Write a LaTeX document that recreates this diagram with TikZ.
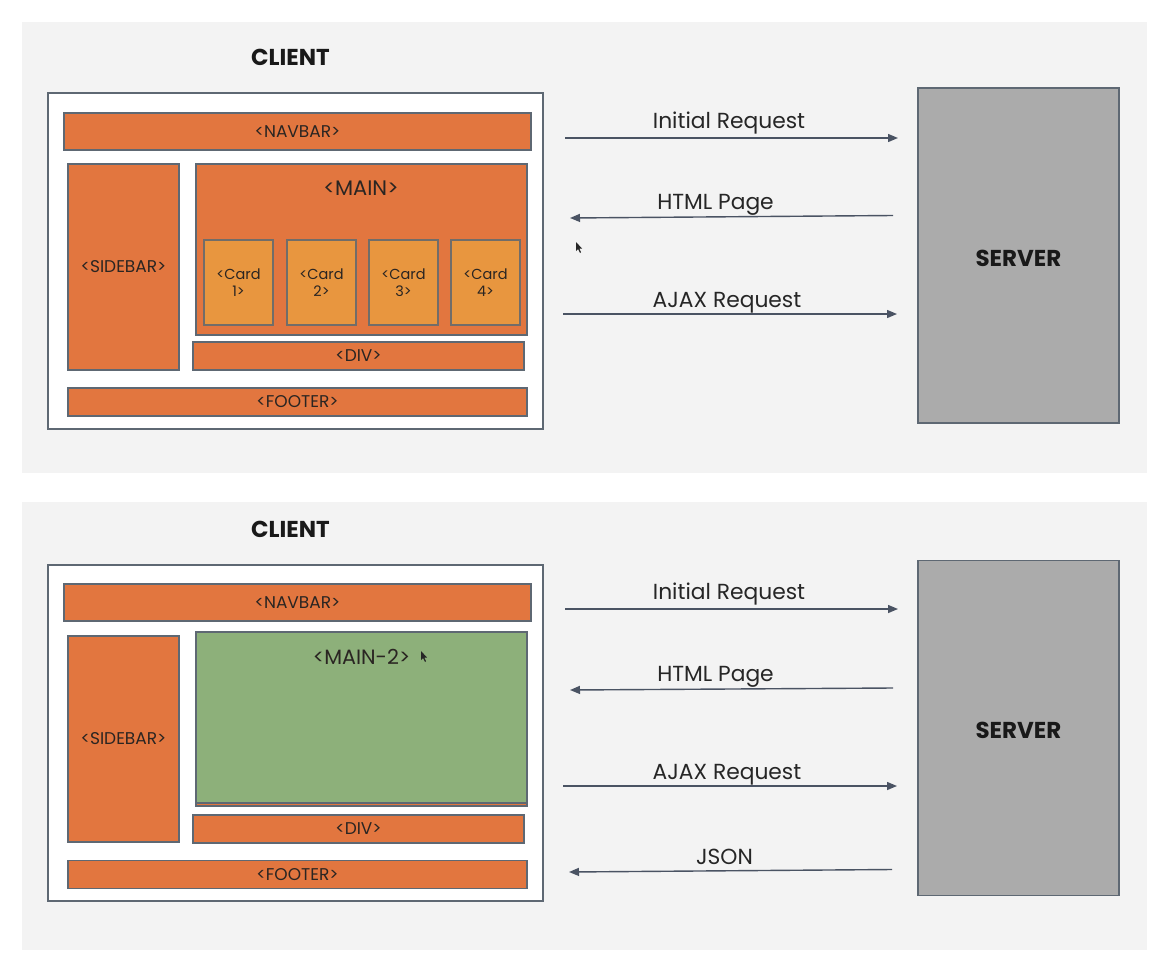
\documentclass[tikz,border=0pt]{standalone}
\usepackage{fontspec}
\setmainfont{Poppins}
\usetikzlibrary{arrows.meta}

\definecolor{panelbg}{HTML}{F3F3F3}
\definecolor{edge}{HTML}{5E6873}
\definecolor{blockor}{HTML}{E2763F}
\definecolor{cardor}{HTML}{E8963F}
\definecolor{maingreen}{HTML}{8DB07A}
\definecolor{srvfill}{HTML}{ABABAB}
\definecolor{flow}{HTML}{4A5363}
\definecolor{ink}{HTML}{2A2522}

\newcommand{\sz}[2][1.2]{\fontsize{#2}{#1\dimexpr#2pt\relax}\selectfont}

\tikzset{
  panel/.style={fill=panelbg, draw=none},
  frame/.style={draw=edge, line width=1.3pt, fill=white, inner sep=0pt},
  blk/.style={draw=edge, line width=1.2pt, fill=blockor, inner sep=0pt, text=ink, font=\sz{17}},
  card/.style={draw=edge!80!brown, line width=1.2pt, fill=cardor, inner sep=0pt, text=ink,
    align=center, font={\fontsize{14.5}{17}\selectfont}, minimum width=69pt, minimum height=85pt},
  greenblk/.style={draw=edge, line width=1.2pt, fill=maingreen, inner sep=0pt},
  server/.style={draw=edge, line width=1.3pt, fill=srvfill, inner sep=0pt,
    minimum width=201pt, minimum height=335pt},
  heading/.style={font=\bfseries\sz{23}, text=black!90, anchor=base, inner sep=0pt},
  flowlabel/.style={font=\sz{21.8}, text=black!85, inner sep=0pt, anchor=base},
  msg/.style={draw=flow, line width=1.4pt, -{Triangle[length=10pt,width=8pt]}},
  pointer/.style={fill=black!85, draw=none},
}

\begin{document}
\begin{tikzpicture}[x=1pt,y=-1pt]
\useasboundingbox[fill=white] (0,0) rectangle (1170,972);

% ---------- upper panel: initial load plus AJAX request ----------
\fill[panel] (22,22) rectangle (1147,473);
\node[heading] (clientA) at (290.5,65) {CLIENT};
\node[frame, minimum width=495pt, minimum height=336pt] (pageA) at (295.5,261) {};
\node[blk, minimum width=467pt, minimum height=37pt] (navA) at (297.5,131.5) {<NAVBAR>};
\node[blk, minimum width=111pt, minimum height=206pt] (sideA) at (123.5,267) {<SIDEBAR>};
\node[blk, minimum width=331pt, minimum height=171pt] (mainA) at (361.5,249.5) {};
\node[font=\sz{21}, text=ink] (mainAlbl) at (361,188) {<MAIN>};
\node[card] (cardA1) at (238.5,282.5) {<Card\\1>};
\node[card] (cardA2) at (321.5,282.5) {<Card\\2>};
\node[card] (cardA3) at (403.5,282.5) {<Card\\3>};
\node[card] (cardA4) at (485.5,282.5) {<Card\\4>};
\node[blk, minimum width=331pt, minimum height=28pt] (divA) at (358.5,356) {<DIV>};
\node[blk, minimum width=459pt, minimum height=28pt] (footA) at (297.5,402) {<FOOTER>};

\node[server] (srvA) at (1018.5,255.5) {};
\node[heading] (srvAlbl) at (1018.5,266) {SERVER};

\coordinate (irAs) at (565,138);   \coordinate (irAe) at (898,138);
\coordinate (hpAs) at (893,215.5); \coordinate (hpAe) at (570,218);
\coordinate (ajAs) at (563,314);   \coordinate (ajAe) at (897,314);
\draw[msg] (irAs) -- (irAe);
\draw[msg] (hpAs) -- (hpAe);
\draw[msg] (ajAs) -- (ajAe);
\node[flowlabel] (irAl) at (729,128) {Initial Request};
\node[flowlabel] (hpAl) at (715.5,209) {HTML Page};
\node[flowlabel] (ajAl) at (727,307) {AJAX Request};

% mouse pointer
\fill[pointer] (576,242) -- (576,251) -- (578,249) -- (580,253) -- (581,252.3) -- (579.3,248.5) -- (582,248.5) -- cycle;

% ---------- lower panel: AJAX response updates <MAIN-2> ----------
\fill[panel] (22,502) rectangle (1147,950);
\node[heading] (clientB) at (290.5,537) {CLIENT};
\node[frame, minimum width=495pt, minimum height=336pt] (pageB) at (295.5,733) {};
\node[blk, minimum width=467pt, minimum height=37pt] (navB) at (297.5,602.5) {<NAVBAR>};
\node[blk, minimum width=111pt, minimum height=206pt] (sideB) at (123.5,739) {<SIDEBAR>};
\node[blk, minimum width=331pt, minimum height=174pt] (mainBbase) at (361.5,719) {};
\node[greenblk, minimum width=331pt, minimum height=171pt] (mainB) at (361.5,717.5) {};
\node[font=\sz{20.7}, text=ink] (mainBlbl) at (361.5,657) {<MAIN-2>};
\node[blk, minimum width=331pt, minimum height=28pt] (divB) at (358.5,829) {<DIV>};
\node[blk, minimum width=459pt, minimum height=28pt] (footB) at (297.5,874.5) {<FOOTER>};

\node[server] (srvB) at (1018.5,728) {};
\node[heading] (srvBlbl) at (1018.5,738) {SERVER};

\coordinate (irBs) at (565,609);   \coordinate (irBe) at (898,609);
\coordinate (hpBs) at (893,688);   \coordinate (hpBe) at (570,690);
\coordinate (ajBs) at (563,786);   \coordinate (ajBe) at (897,786);
\coordinate (jsBs) at (892,869.5); \coordinate (jsBe) at (569,872);
\draw[msg] (irBs) -- (irBe);
\draw[msg] (hpBs) -- (hpBe);
\draw[msg] (ajBs) -- (ajBe);
\draw[msg] (jsBs) -- (jsBe);
\node[flowlabel] (irBl) at (729,599) {Initial Request};
\node[flowlabel] (hpBl) at (715.5,681) {HTML Page};
\node[flowlabel] (ajBl) at (727,779) {AJAX Request};
\node[flowlabel] (jsBl) at (724.5,864) {JSON};

% mouse pointer
\fill[pointer] (421,651) -- (421,660) -- (423,658) -- (425,662) -- (426,661.3) -- (424.3,657.5) -- (427,657.5) -- cycle;
\end{tikzpicture}
\end{document}
